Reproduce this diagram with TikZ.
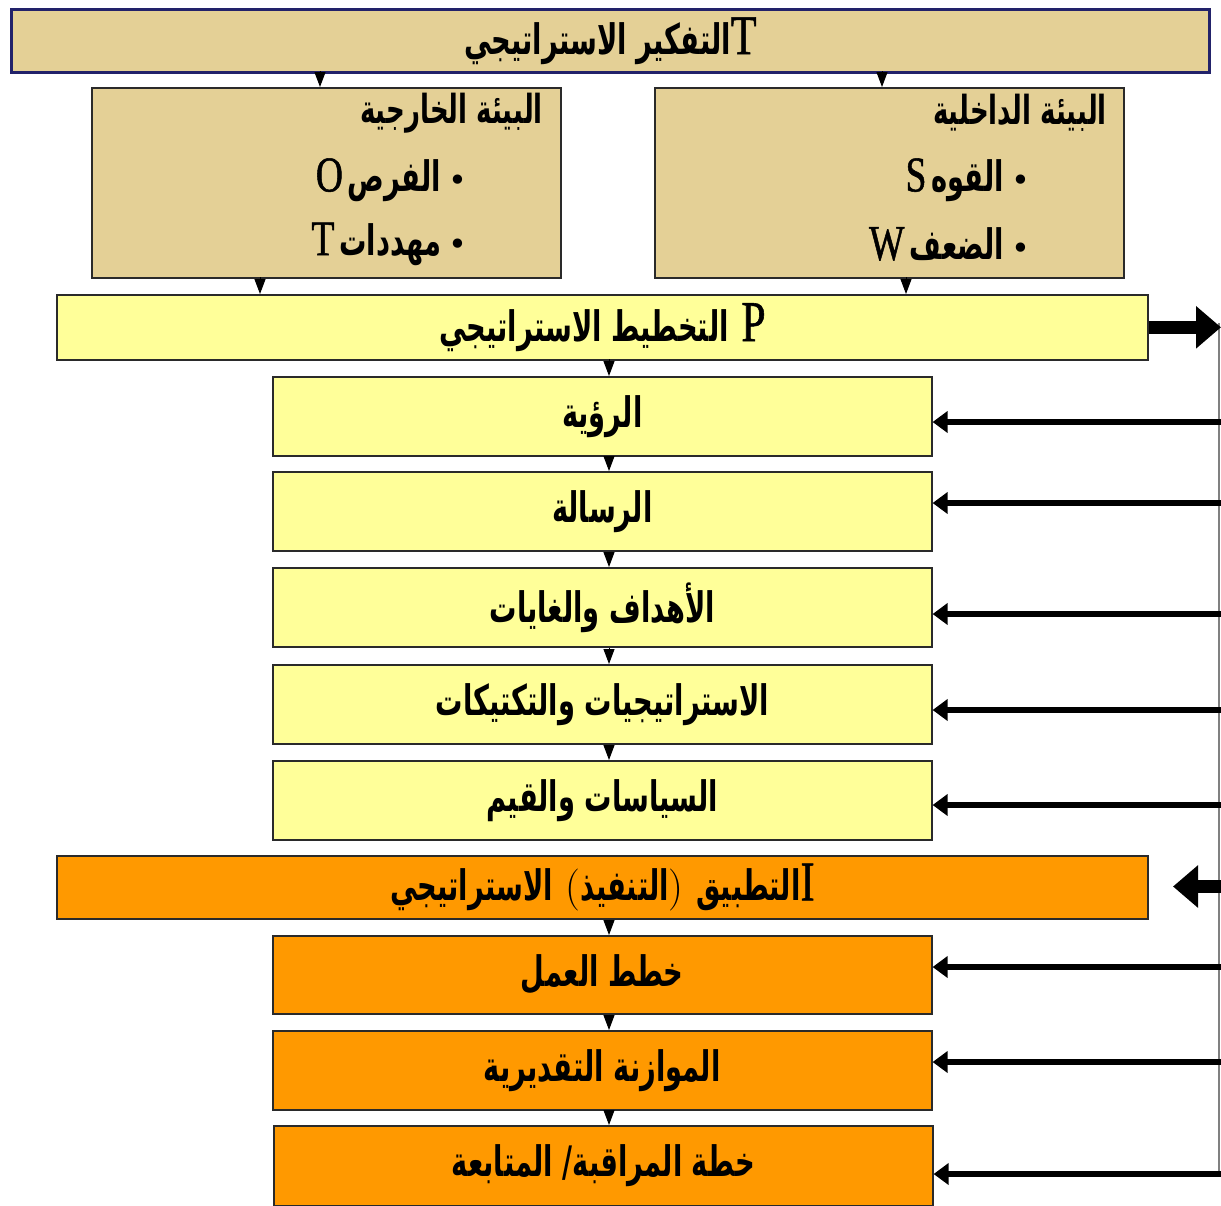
\documentclass[tikz,border=0pt]{standalone}
\usepackage{fontspec}
\usetikzlibrary{arrows.meta,calc}
\TeXXeTstate=1
\newfontfamily\arfont{DejaVu Sans}[Script=Arabic,FakeStretch=0.65]
\newfontfamily\latfont{Liberation Serif}[FakeStretch=0.75,FakeBold=1]
\newfontfamily\bulfont{DejaVu Sans}
\newcommand\artxt[1]{{\arfont\bfseries\beginR #1\endR}}
\newcommand\lattxt[1]{{\latfont #1}}
\newcommand\bul{{\bulfont\fontsize{32}{32}\selectfont •}}
\definecolor{tanfill}{HTML}{E4D096}
\definecolor{navyline}{HTML}{22226A}
\definecolor{yelfill}{HTML}{FFFF99}
\definecolor{orfill}{HTML}{FF9900}
\definecolor{boxline}{HTML}{2A2A2A}
\tikzset{
  boxbase/.style={draw=boxline, line width=1.6pt, anchor=north west, inner sep=0pt, font=\fontsize{42}{46}\selectfont},
  tanbox/.style={boxbase, fill=tanfill},
  titlebox/.style={boxbase, fill=tanfill, draw=navyline, line width=2.8pt},
  yelbox/.style={boxbase, fill=yelfill},
  orbox/.style={boxbase, fill=orfill},
  smallarr/.style={line width=1pt, -{Triangle[width=11pt,length=15pt]}},
  rowarr/.style={line width=6pt, -{Triangle[width=21pt,length=15pt]}},
  bigarr/.style={line width=13pt, -{Triangle[width=41pt,length=25pt]}},
  envhead/.style={anchor=east, inner sep=0pt, font=\fontsize{40}{44}\selectfont},
  envtext/.style={anchor=east, inner sep=0pt, font=\fontsize{42}{46}\selectfont},
}
\begin{document}
\begin{tikzpicture}[x=1pt,y=-1pt]
\clip (0,0) rectangle (1221,1205);
\fill[white] (0,0) rectangle (1221,1205);
% boxes
\node[titlebox, minimum width=1198, minimum height=63] (title) at (10,8) {\artxt{التفكير الاستراتيجي}\lattxt{\fontsize{56}{60}\selectfont T}};
\node[tanbox, minimum width=469, minimum height=190] (ext) at (91,87) {};
\node[tanbox, minimum width=469, minimum height=190] (int) at (654,87) {};
\node[yelbox, minimum width=1091, minimum height=65] (plan) at (56,294) {\artxt{التخطيط الاستراتيجي}\ \lattxt{\fontsize{58}{60}\selectfont P}};
\node[yelbox, minimum width=659, minimum height=79] (r1) at (272,376) {\artxt{الرؤية}};
\node[yelbox, minimum width=659, minimum height=79] (r2) at (272,471) {\artxt{الرسالة}};
\node[yelbox, minimum width=659, minimum height=79] (r3) at (272,567) {\artxt{الأهداف والغايات}};
\node[yelbox, minimum width=659, minimum height=79] (r4) at (272,664) {\artxt{الاستراتيجيات والتكتيكات}};
\node[yelbox, minimum width=659, minimum height=79] (r5) at (272,760) {\artxt{السياسات والقيم}};
\node[orbox, minimum width=1091, minimum height=63] (impl) at (56,855) {\artxt{الاستراتيجي}\ (\artxt{التنفيذ})\ \artxt{التطبيق}\lattxt{\fontsize{56}{60}\selectfont I}};
\node[orbox, minimum width=659, minimum height=78] (o1) at (272,935) {\artxt{خطط العمل}};
\node[orbox, minimum width=659, minimum height=79] (o2) at (272,1030) {\artxt{الموازنة التقديرية}};
\node[orbox, minimum width=659, minimum height=80, anchor=north west] (o3) at (273,1125) {\artxt{خطة المراقبة/ المتابعة}};
% environment texts
\node[envhead] (exth) at (543,113) {\artxt{البيئة الخارجية}};
\node[envtext] (ext1) at (468,180) {\lattxt{\fontsize{50}{54}\selectfont O}\hspace{5pt}\artxt{الفرص}\hspace{8pt}\bul};
\node[envtext] (ext2) at (468,244) {\lattxt{\fontsize{50}{54}\selectfont T}\hspace{5pt}\artxt{مهددات}\hspace{8pt}\bul};
\node[envhead] (inth) at (1107,113) {\artxt{البيئة الداخلية}};
\node[envtext] (int1) at (1031,180) {\lattxt{\fontsize{50}{54}\selectfont S}\hspace{5pt}\artxt{القوه}\hspace{8pt}\bul};
\node[envtext] (int2) at (1031,244) {\lattxt{\fontsize{50}{54}\selectfont W}\hspace{5pt}\artxt{الضعف}\hspace{8pt}\bul};
% small down arrows
\coordinate (ta) at (320,71);
\coordinate (tb) at (882,71);
\coordinate (ea) at (260,277);
\coordinate (ib) at (906,277);
\coordinate (pc) at (609,359);
\draw[smallarr] (ta) -- (ta |- ext.north);
\draw[smallarr] (tb) -- (tb |- int.north);
\draw[smallarr] (ea) -- (ea |- plan.north);
\draw[smallarr] (ib) -- (ib |- plan.north);
\draw[smallarr] (pc) -- (pc |- r1.north);
\draw[smallarr] (r1.south -| pc) -- (r2.north -| pc);
\draw[smallarr] (r2.south -| pc) -- (r3.north -| pc);
\draw[smallarr] (r3.south -| pc) -- (r4.north -| pc);
\draw[smallarr] (r4.south -| pc) -- (r5.north -| pc);
\draw[smallarr] (impl.south -| pc) -- (o1.north -| pc);
\draw[smallarr] (o1.south -| pc) -- (o2.north -| pc);
\draw[smallarr] (o2.south -| pc) -- (o3.north -| pc);
% right rail
\coordinate (railtop) at (1219,323);
\coordinate (railbot) at (1219,1175);
\draw[gray, line width=1.2pt] (railtop) -- (railbot);
\coordinate (y1) at (1221,422);
\coordinate (y2) at (1221,503);
\coordinate (y3) at (1221,614);
\coordinate (y4) at (1221,710);
\coordinate (y5) at (1221,805);
\coordinate (y6) at (1221,967);
\coordinate (y7) at (1221,1062);
\coordinate (y8) at (1221,1174);
\draw[rowarr] (y1) -- (y1 -| r1.east);
\draw[rowarr] (y2) -- (y2 -| r2.east);
\draw[rowarr] (y3) -- (y3 -| r3.east);
\draw[rowarr] (y4) -- (y4 -| r4.east);
\draw[rowarr] (y5) -- (y5 -| r5.east);
\draw[rowarr] (y6) -- (y6 -| o1.east);
\draw[rowarr] (y7) -- (y7 -| o2.east);
\draw[rowarr] (y8) -- (y8 -| o3.east);
\coordinate (pe) at (1221,326.5);
\draw[bigarr] (plan.east) -- (plan.east -| pe);
\coordinate (ie) at (1221,886.5);
\coordinate (itip) at (1173,886.5);
\draw[bigarr] (ie) -- (itip);
\end{tikzpicture}
\end{document}
